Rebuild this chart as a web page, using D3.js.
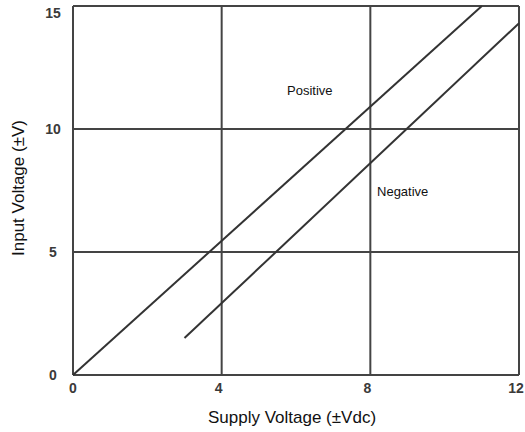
<!DOCTYPE html>
<html>
<head>
<meta charset="utf-8">
<script src="https://cdn.jsdelivr.net/npm/d3@7/dist/d3.min.js"></script>
<style>
  html, body { margin: 0; padding: 0; background: #fff; }
  svg { display: block; font-family: "Liberation Sans", Arial, sans-serif; }
</style>
</head>
<body>
<svg id="chart" width="525" height="432"></svg>
<script>
// ---- data ----
const xTicks = [0, 4, 8, 12];
const yTicks = [0, 5, 10, 15];
const xDomain = [0, 12];
const yDomain = [0, 15];
const positiveSeries = [[0, 0], [11, 15]];
const negativeSeries = [[3, 1.5], [12, 14.3]];
const seriesLabels = [
  { text: "Positive", x: 5.76, y: 11.4 },
  { text: "Negative", x: 8.18, y: 7.28 }
];
const xTitle = "Supply Voltage (\u00B1Vdc)";
const yTitle = "Input Voltage (\u00B1V)";

// ---- layout ----
const margin = { left: 73, top: 6, right: 6, bottom: 57 };
const W = 525, H = 432;
const svg = d3.select("#chart");
const x = d3.scaleLinear().domain(xDomain).range([margin.left, W - margin.right]);
const y = d3.scaleLinear().domain(yDomain).range([H - margin.bottom, margin.top]);

const gridColor = "#444";
// grid (including frame)
svg.append("g").selectAll("line.v").data(xTicks).join("line")
  .attr("x1", d => x(d)).attr("x2", d => x(d))
  .attr("y1", y(yDomain[0])).attr("y2", y(yDomain[1]))
  .attr("stroke", gridColor).attr("stroke-width", 2);
svg.append("g").selectAll("line.h").data(yTicks).join("line")
  .attr("x1", x(xDomain[0])).attr("x2", x(xDomain[1]))
  .attr("y1", d => y(d)).attr("y2", d => y(d))
  .attr("stroke", gridColor).attr("stroke-width", 2);

// series lines
const line = d3.line().x(d => x(d[0])).y(d => y(d[1]));
[positiveSeries, negativeSeries].forEach(s => {
  svg.append("path").datum(s).attr("d", line)
    .attr("fill", "none").attr("stroke", "#333").attr("stroke-width", 2);
});

// series labels
svg.append("g").selectAll("text").data(seriesLabels).join("text")
  .attr("x", d => x(d.x)).attr("y", d => y(d.y))
  .attr("font-size", 13).attr("fill", "#111")
  .text(d => d.text);

// tick labels
svg.append("g").selectAll("text").data(yTicks).join("text")
  .attr("x", 53)
  .attr("y", d => Math.max(y(d), 13))
  .attr("dy", "0.36em")
  .attr("text-anchor", "middle")
  .attr("font-size", 14).attr("font-weight", "bold").attr("fill", "#3a3a3a")
  .text(d => d);
svg.append("g").selectAll("text").data(xTicks).join("text")
  .attr("x", d => x(d) - (d === 0 ? 0 : 3))
  .attr("y", y(0) + 18)
  .attr("text-anchor", "middle")
  .attr("font-size", 14).attr("font-weight", "bold").attr("fill", "#3a3a3a")
  .text(d => d);

// axis titles
svg.append("text")
  .attr("x", 292).attr("y", 423)
  .attr("text-anchor", "middle")
  .attr("font-size", 17).attr("fill", "#111")
  .text(xTitle);
svg.append("text")
  .attr("transform", "translate(24,188) rotate(-90)")
  .attr("text-anchor", "middle")
  .attr("font-size", 17).attr("fill", "#111")
  .text(yTitle);
</script>
</body>
</html>
